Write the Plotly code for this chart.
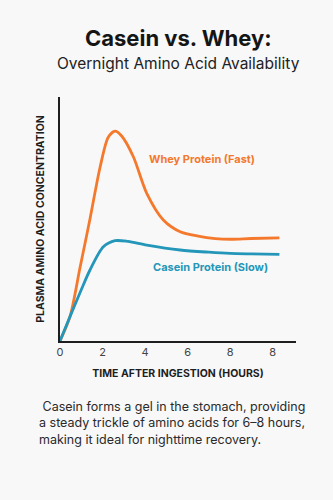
import plotly.graph_objects as go

# Hours after ingestion and relative plasma amino acid levels
whey_hours = [0, 0.47, 0.94, 1.41, 1.88, 2.27, 2.59, 2.9, 3.45, 4.08, 4.86, 5.65, 6.5, 7.3, 8.0, 9.0, 10.32]
whey_level = [0, 10, 30, 50, 71, 83.5, 86, 84, 75.5, 60.5, 49.6, 44.8, 43, 42, 41.7, 42, 42.3]

casein_hours = [0, 0.47, 1.0, 1.41, 2.04, 2.59, 3.2, 4.08, 5.65, 7.0, 8.0, 9.0, 10.32]
casein_level = [0, 10, 21, 29.1, 38.6, 41.1, 40.8, 39.3, 37.3, 36.4, 35.9, 35.7, 35.5]

tick_vals = [0, 2, 4, 6, 8, 10]
tick_text = ["0", "2", "4", "6", "8", "8"]

WHEY = "#F4792D"
CASEIN = "#2396B9"
INK = "#1E1E1E"
FONT = "Inter"

fig = go.Figure()
fig.add_trace(go.Scatter(x=whey_hours, y=whey_level, mode="lines",
                         line=dict(color=WHEY, width=2.8, shape="spline", smoothing=0.8),
                         hoverinfo="skip"))
fig.add_trace(go.Scatter(x=casein_hours, y=casein_level, mode="lines",
                         line=dict(color=CASEIN, width=2.8, shape="spline", smoothing=0.8),
                         hoverinfo="skip"))

# Plot area spans 244 px vertically; paper coords for header/caption text
def py(px):
    return (341 - px) / 244

annotations = [
    dict(text="<b>Casein vs. Whey:</b>", x=0.5, y=py(38), xref="paper", yref="paper",
         xanchor="center", yanchor="middle", showarrow=False,
         font=dict(family=FONT, size=22, color="#151515")),
    dict(text="Overnight Amino Acid Availability", x=0.5, y=py(64), xref="paper", yref="paper",
         xanchor="center", yanchor="middle", showarrow=False,
         font=dict(family=FONT, size=15.5, color="#222222")),
    dict(text="<b>Whey Protein (Fast)</b>", x=6.7, y=py(159) * 100, xref="x", yref="y",
         xanchor="center", yanchor="middle", showarrow=False,
         font=dict(family=FONT, size=11, color=WHEY)),
    dict(text="<b>Casein Protein (Slow)</b>", x=7.1, y=py(267) * 100, xref="x", yref="y",
         xanchor="center", yanchor="middle", showarrow=False,
         font=dict(family=FONT, size=11, color=CASEIN)),
    dict(text=" Casein forms a gel in the stomach, providing<br>a steady trickle of amino acids for 6–8 hours,<br>making it ideal for nighttime recovery.",
         x=(37 - 60) / 236, y=py(397), xref="paper", yref="paper",
         xanchor="left", yanchor="top", align="left", showarrow=False,
         font=dict(family=FONT, size=12.5, color="#2A2A2A")),
]

fig.update_layout(
    width=333, height=500,
    margin=dict(l=60, r=37, t=97, b=159),
    paper_bgcolor="#F8F8F8", plot_bgcolor="#F8F8F8",
    showlegend=False,
    annotations=annotations,
    xaxis=dict(range=[0, 11.1], tickvals=tick_vals, ticktext=tick_text,
               showgrid=False, zeroline=False, showline=True, linecolor=INK, linewidth=1.5,
               ticks="", tickfont=dict(family=FONT, size=11, color="#444444"),
               title=dict(text="<b>TIME AFTER INGESTION (HOURS)</b>", standoff=12,
                          font=dict(family=FONT, size=10.5, color=INK))),
    yaxis=dict(range=[0, 100], showticklabels=False, showgrid=False, zeroline=False,
               showline=True, linecolor=INK, linewidth=1.5, ticks="",
               title=dict(text="<b>PLASMA AMINO ACID CONCENTRATION</b>", standoff=12,
                          font=dict(family=FONT, size=10.5, color=INK))),
)

fig.write_html("out.html")
